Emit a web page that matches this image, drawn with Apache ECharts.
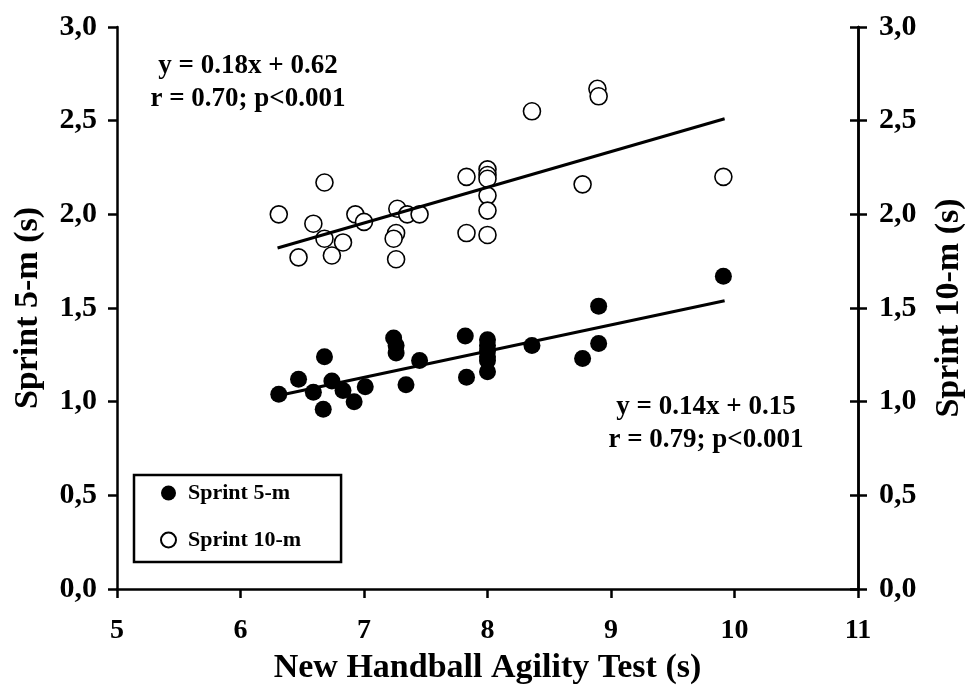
<!DOCTYPE html>
<html>
<head>
<meta charset="utf-8">
<script src="https://cdn.jsdelivr.net/npm/echarts@6/dist/echarts.min.js"></script>
<style>html,body{margin:0;padding:0;background:#fff}#c{width:965px;height:691px}</style>
</head>
<body>
<div id="c"></div>
<script>
// Sprint 5-m (filled markers)
const hat5 = [6.31,6.47,6.59,6.68,6.67,6.74,6.83,6.92,7.01,7.24,7.26,7.26,7.34,7.45,7.82,7.83,8.0,8.0,8.0,8.0,8.0,8.0,8.36,8.77,8.90,8.90,9.91];
const sprint5 = [1.04,1.12,1.05,1.24,0.96,1.11,1.06,1.00,1.08,1.34,1.30,1.26,1.09,1.22,1.35,1.13,1.33,1.30,1.27,1.24,1.22,1.16,1.30,1.23,1.51,1.31,1.67];
// Sprint 10-m (open markers)
const hat10 = [6.31,6.59,6.68,6.68,6.47,6.74,6.83,6.93,7.00,7.27,7.35,7.45,7.26,7.24,7.26,7.83,7.83,8.0,8.0,8.0,8.0,8.0,8.0,8.36,8.89,8.90,8.77,9.91];
const sprint10 = [2.00,1.95,2.17,1.87,1.77,1.78,1.85,2.00,1.96,2.03,2.00,2.00,1.90,1.87,1.76,2.20,1.90,2.24,2.21,2.19,2.10,2.02,1.89,2.55,2.67,2.63,2.16,2.20];
// Regression line end points (as drawn)
const fitX = [6.30, 9.92];
const fit5 = [1.032, 1.539];
const fit10 = [1.82, 2.51];
// Text
const eq10 = ['y = 0.18x + 0.62', 'r = 0.70; p<0.001'];
const eq5 = ['y = 0.14x + 0.15', 'r = 0.79; p<0.001'];
const xTitle = 'New Handball Agility Test (s)';
const yTitleL = 'Sprint 5-m (s)';
const yTitleR = 'Sprint 10-m (s)';

const FONT = "'Liberation Serif', 'Times New Roman', serif";
const zip = (a, b) => a.map((v, i) => [v, b[i]]);
const fmt = v => v.toFixed(1).replace('.', ',');

const chart = echarts.init(document.getElementById('c'), null, {renderer: 'canvas'});
const yBase = {
  type: 'value', min: 0, max: 3, interval: 0.5,
  splitLine: {show: false},
  axisLine: {show: true, lineStyle: {color: '#000', width: 2.5}},
  axisTick: {show: true, length: 9, lineStyle: {color: '#000', width: 2.5}},
  axisLabel: {formatter: fmt, color: '#000', fontFamily: FONT, fontWeight: 'bold', fontSize: 30, margin: 20},
  nameLocation: 'middle', nameGap: 72, nameRotate: 90,
  nameTextStyle: {color: '#000', fontFamily: FONT, fontWeight: 'bold', fontSize: 34}
};
chart.setOption({
  animation: false,
  backgroundColor: '#fff',
  grid: {left: 117, right: 107, top: 27, bottom: 102, containLabel: false, outerBoundsMode: 'none'},
  legend: {
    left: 134, top: 475, orient: 'vertical',
    data: [
      {name: 'Sprint 5-m', icon: 'circle'},
      {name: 'Sprint 10-m', icon: 'circle'}
    ],
    itemWidth: 15, itemHeight: 15, itemGap: 25,
    padding: [7, 40, 11, 26],
    borderColor: '#000', borderWidth: 2.5,
    textStyle: {color: '#000', fontFamily: FONT, fontWeight: 'bold', fontSize: 22, padding: [0, 0, 0, 7]},
    selectedMode: false
  },
  xAxis: {
    type: 'value', min: 5, max: 11, interval: 1,
    splitLine: {show: false},
    axisLine: {show: true, onZero: false, lineStyle: {color: '#000', width: 2.5}},
    axisTick: {show: true, length: 9, lineStyle: {color: '#000', width: 2.5}},
    axisLabel: {color: '#000', fontFamily: FONT, fontWeight: 'bold', fontSize: 28, margin: 28},
    name: xTitle, nameLocation: 'middle', nameGap: 62,
    nameTextStyle: {color: '#000', fontFamily: FONT, fontWeight: 'bold', fontSize: 34}
  },
  yAxis: [
    Object.assign({}, yBase, {position: 'left', name: yTitleL}),
    Object.assign({}, yBase, {position: 'right', name: yTitleR,
      axisLabel: Object.assign({}, yBase.axisLabel, {margin: 21}),
      nameGap: 74}),
    Object.assign({}, yBase, {position: 'right', name: '',
      axisLabel: {show: false},
      axisTick: {show: true, inside: true, length: 8, lineStyle: {color: '#000', width: 2.5}}})
  ],
  series: [
    {
      name: 'Sprint 5-m', type: 'scatter', yAxisIndex: 0,
      data: zip(hat5, sprint5), symbol: 'circle', symbolSize: 17,
      itemStyle: {color: '#000', opacity: 1}, z: 3
    },
    {
      name: 'Sprint 10-m', type: 'scatter', yAxisIndex: 1,
      data: zip(hat10, sprint10), symbol: 'circle', symbolSize: 17,
      itemStyle: {color: '#fff', borderColor: '#000', borderWidth: 1.6, opacity: 1}, z: 3
    },
    {
      name: 'fit5', type: 'line', yAxisIndex: 0, data: zip(fitX, fit5),
      showSymbol: false, symbol: 'none', lineStyle: {color: '#000', width: 3}, z: 5
    },
    {
      name: 'fit10', type: 'line', yAxisIndex: 1, data: zip(fitX, fit10),
      showSymbol: false, symbol: 'none', lineStyle: {color: '#000', width: 3}, z: 5
    }
  ],
  graphic: [
    {
      type: 'text', x: 248, y: 83,
      style: {text: eq10.join('\n'), fill: '#000', font: "bold 27px " + FONT,
        textAlign: 'center', textVerticalAlign: 'middle', lineHeight: 33}
    },
    {
      type: 'text', x: 706, y: 424,
      style: {text: eq5.join('\n'), fill: '#000', font: "bold 27px " + FONT,
        textAlign: 'center', textVerticalAlign: 'middle', lineHeight: 33}
    }
  ]
});
</script>
</body>
</html>
